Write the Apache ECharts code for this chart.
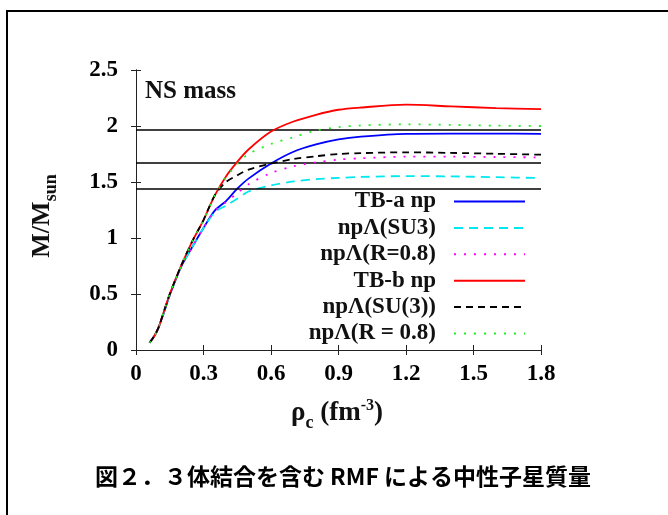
<!DOCTYPE html>
<html>
<head>
<meta charset="utf-8">
<script src="https://cdn.jsdelivr.net/npm/echarts@6/dist/echarts.min.js"></script>
<style>
html,body{margin:0;padding:0;background:#fff;}
#chart{width:668px;height:515px;}
</style>
</head>
<body>
<div id="chart"></div>
<script>
// ---- data ----
const xTickLabels = ['0', '0.3', '0.6', '0.9', '1.2', '1.5', '1.8'];
const yTickLabels = ['0', '0.5', '1', '1.5', '2', '2.5'];
const rho = [0.06, 0.08, 0.1, 0.125, 0.15, 0.2, 0.25, 0.3, 0.35, 0.4, 0.45, 0.5, 0.6, 0.7, 0.8, 0.9, 1.0, 1.2, 1.4, 1.6, 1.8];
const tbaNp      = [0.065, 0.12, 0.2, 0.34, 0.49, 0.74, 0.92, 1.09, 1.245, 1.33, 1.44, 1.53, 1.665, 1.77, 1.835, 1.88, 1.905, 1.93, 1.932, 1.932, 1.93];
const tbaSU3     = [0.065, 0.12, 0.2, 0.34, 0.49, 0.74, 0.92, 1.09, 1.23, 1.29, 1.35, 1.415, 1.47, 1.505, 1.525, 1.537, 1.545, 1.553, 1.55, 1.543, 1.535];
const tbaR08     = [0.065, 0.12, 0.2, 0.34, 0.49, 0.74, 0.92, 1.09, 1.24, 1.32, 1.40, 1.48, 1.58, 1.64, 1.675, 1.70, 1.712, 1.726, 1.726, 1.723, 1.72];
const tbbNp      = [0.065, 0.12, 0.2, 0.35, 0.5, 0.75, 0.97, 1.16, 1.38, 1.55, 1.68, 1.79, 1.95, 2.04, 2.10, 2.145, 2.165, 2.19, 2.175, 2.16, 2.15];
const tbbSU3     = [0.065, 0.12, 0.2, 0.35, 0.5, 0.75, 0.97, 1.16, 1.38, 1.50, 1.56, 1.61, 1.665, 1.705, 1.73, 1.75, 1.758, 1.765, 1.76, 1.752, 1.744];
const tbbR08     = [0.065, 0.12, 0.2, 0.35, 0.5, 0.75, 0.97, 1.16, 1.38, 1.54, 1.66, 1.75, 1.84, 1.90, 1.96, 1.99, 2.005, 2.015, 2.01, 2.003, 2.0];
const seriesNames = ['TB-a np', 'npΛ(SU3)', 'npΛ(R=0.8)', 'TB-b np', 'npΛ(SU(3))', 'npΛ(R = 0.8)'];
const refMasses = [1.97, 1.67, 1.44];
const captionText = '図２．３体結合を含む RMF による中性子星質量';

// ---- styles ----
const serif = '"Liberation Serif", "Times New Roman", serif';
const styles = [
  { color: '#0000ff', type: 'solid' },
  { color: '#00e8f0', type: [9, 6] },
  { color: '#ff00ff', type: [2, 8] },
  { color: '#ff0000', type: 'solid' },
  { color: '#000000', type: [7, 5] },
  { color: '#22ee22', type: [2, 8] }
];
const values = [tbaNp, tbaSU3, tbaR08, tbbNp, tbbSU3, tbbR08];

const chart = echarts.init(document.getElementById('chart'), null, { renderer: 'canvas' });

const series = values.map((vals, i) => ({
  name: seriesNames[i],
  type: 'line',
  xAxisIndex: 0,
  yAxisIndex: 0,
  symbol: 'none',
  smooth: 0.3,
  data: rho.map((x, j) => [x, vals[j]]),
  lineStyle: { color: styles[i].color, type: styles[i].type, width: 1.8 },
  itemStyle: { color: styles[i].color },
  z: 3 + i,
  animation: false
}));
series.push({
  name: 'ref',
  type: 'line',
  data: [],
  symbol: 'none',
  animation: false,
  markLine: {
    silent: true,
    symbol: 'none',
    label: { show: false },
    lineStyle: { color: '#000', type: 'solid', width: 1.5 },
    data: refMasses.map(v => ({ yAxis: v }))
  }
});

const rowY0 = 202, rowStep = 26.4;
const legends = seriesNames.map((n, i) => ({
  data: [n],
  right: 142,
  top: rowY0 + rowStep * i - 12,
  orient: 'vertical',
  align: 'right',
  padding: 0,
  itemWidth: 71,
  itemHeight: 2,
  selectedMode: false,
  itemStyle: { opacity: 0, borderWidth: 0 },
  textStyle: { fontFamily: serif, fontWeight: 'bold', fontSize: 23, color: '#111', padding: [0, 13, 0, 0] }
}));

const axisCommon = {
  type: 'value',
  axisLine: { show: true, lineStyle: { color: '#222', width: 1 } },
  axisTick: { show: true, inside: true, length: 5, lineStyle: { color: '#222', width: 1 } },
  splitLine: { show: false }
};

chart.setOption({
  animation: false,
  backgroundColor: '#fff',
  grid: { left: 136, right: 127, top: 70, bottom: 165, containLabel: false, outerBoundsMode: 'none' },
  legend: legends,
  xAxis: [
    Object.assign({}, axisCommon, {
      position: 'bottom', min: 0, max: 1.8, interval: 0.3,
      axisLabel: {
        margin: 13, color: '#000', fontFamily: serif, fontWeight: 'bold', fontSize: 23,
        formatter: v => xTickLabels[Math.round(v / 0.3)]
      }
    }),
    Object.assign({}, axisCommon, {
      position: 'top', min: 0, max: 1.8, interval: 0.3, axisLabel: { show: false }
    })
  ],
  yAxis: [
    Object.assign({}, axisCommon, {
      position: 'left', min: 0, max: 2.5, interval: 0.5,
      axisLabel: {
        margin: 18, color: '#000', fontFamily: serif, fontWeight: 'bold', fontSize: 23,
        formatter: v => yTickLabels[Math.round(v / 0.5)]
      }
    }),
    Object.assign({}, axisCommon, {
      position: 'right', min: 0, max: 2.5, interval: 0.5, axisLabel: { show: false }
    })
  ],
  graphic: [
    {
      type: 'rect', silent: true, z: 100,
      shape: { x: 7, y: 11, width: 800, height: 700 },
      style: { fill: 'none', stroke: '#000', lineWidth: 2 }
    },
    {
      type: 'text', silent: true, x: 145, y: 92, z: 100,
      style: { text: 'NS mass', font: 'bold 25px ' + serif, fill: '#111', align: 'left', verticalAlign: 'middle' }
    },
    {
      type: 'text', silent: true, x: 43, y: 216, rotation: Math.PI / 2, z: 100,
      style: {
        text: '{m|M/M}{s|sun}',
        align: 'center', verticalAlign: 'middle', fill: '#111',
        rich: {
          m: { font: 'bold 26px ' + serif, verticalAlign: 'top', lineHeight: 27 },
          s: { font: 'bold 18px ' + serif, verticalAlign: 'top', lineHeight: 18, padding: [13, 0, 0, 0] }
        }
      }
    },
    {
      type: 'text', silent: true, x: 337, y: 414, z: 100,
      style: {
        text: '{a|ρ}{b|c}{a| (fm}{c|-3}{a|)}',
        align: 'center', verticalAlign: 'middle', fill: '#111',
        rich: {
          a: { font: 'bold 27px ' + serif, verticalAlign: 'top', lineHeight: 28 },
          b: { font: 'bold 18px ' + serif, verticalAlign: 'top', lineHeight: 18, padding: [14, 0, 0, 0] },
          c: { font: 'bold 16px ' + serif, verticalAlign: 'top', lineHeight: 16, padding: [-2, 0, 0, 0] }
        }
      }
    },
    {
      type: 'text', silent: true, x: 343, y: 476, z: 100,
      style: { text: captionText, font: 'bold 23px "Noto Sans CJK JP"', fill: '#000', align: 'center', verticalAlign: 'middle' }
    }
  ],
  series: series
});
</script>
</body>
</html>
